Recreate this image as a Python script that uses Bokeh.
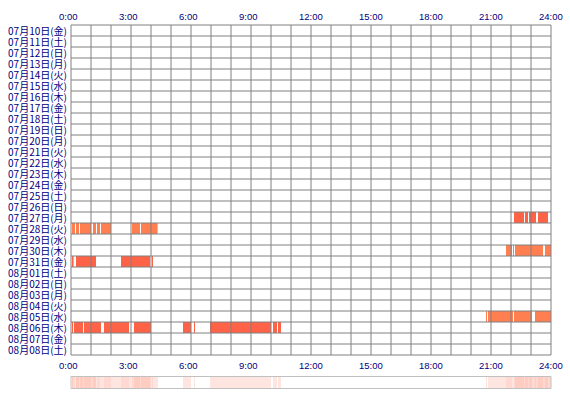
from bokeh.plotting import figure
from bokeh.models import Range1d
from bokeh.core.properties import value
from bokeh.embed import file_html
from bokeh.resources import INLINE
import numpy as np

# ---- data ----
day_labels = [
    "07月10日(金)", "07月11日(土)", "07月12日(日)", "07月13日(月)", "07月14日(火)",
    "07月15日(水)", "07月16日(木)", "07月17日(金)", "07月18日(土)", "07月19日(日)",
    "07月20日(月)", "07月21日(火)", "07月22日(水)", "07月23日(木)", "07月24日(金)",
    "07月25日(土)", "07月26日(日)", "07月27日(月)", "07月28日(火)", "07月29日(水)",
    "07月30日(木)", "07月31日(金)", "08月01日(土)", "08月02日(日)", "08月03日(月)",
    "08月04日(火)", "08月05日(水)", "08月06日(木)", "08月07日(金)", "08月08日(土)",
]
hour_ticks = [0, 3, 6, 9, 12, 15, 18, 21, 24]
hour_labels = ["0:00", "3:00", "6:00", "9:00", "12:00", "15:00", "18:00", "21:00", "24:00"]

act_0727 = [(22.15, 22.65), (22.7, 22.85), (22.9, 23.25), (23.35, 23.85)]
act_0728 = [(0.05, 0.2), (0.25, 0.4), (0.45, 1.0), (1.1, 1.25), (1.3, 1.45), (1.5, 2.0),
            (3.05, 3.45), (3.5, 4.33)]
act_0730 = [(21.75, 22.05), (22.1, 22.15), (22.2, 23.6), (23.7, 24.0)]
act_0731 = [(0.05, 0.13), (0.25, 1.25), (2.5, 3.95), (4.05, 4.1)]
act_0805 = [(20.75, 20.8), (20.85, 22.1), (22.15, 23.05), (23.2, 24.0)]
act_0806 = [(0.05, 0.1), (0.15, 0.6), (0.65, 1.5), (1.65, 2.9), (3.15, 4.0), (5.6, 6.0),
            (6.15, 6.2), (6.95, 10.0), (10.1, 10.3), (10.35, 10.5)]

activity = [
    ("07月27日(月)", act_0727, "#FF6347"),
    ("07月28日(火)", act_0728, "#FF7F50"),
    ("07月30日(木)", act_0730, "#FF7F50"),
    ("07月31日(金)", act_0731, "#FF6347"),
    ("08月05日(水)", act_0805, "#FF7F50"),
    ("08月06日(木)", act_0806, "#FF6347"),
]

# ---- figure ----
W, H = 566, 394
x0 = (0 - 70.5) / 20.0
y0 = (0 - 24.5) / 11.0
p = figure(width=W, height=H, output_backend="svg", toolbar_location=None,
           x_range=Range1d(x0, x0 + W / 20.0), y_range=Range1d(y0 + H / 11.0, y0),
           x_axis_location=None, y_axis_location=None, min_border=0)
p.outline_line_color = None
p.xgrid.visible = False
p.ygrid.visible = False
p.background_fill_color = "white"
p.border_fill_color = "white"

n = len(day_labels)

# bars
L, R, T, B, C = [], [], [], [], []
for lab, segs, col in activity:
    i = day_labels.index(lab)
    for s, e in segs:
        L.append(s); R.append(e); T.append(i); B.append(i + 1); C.append(col)
p.quad(left=L, right=R, top=T, bottom=B, fill_color=C, line_color=None)

# grid
gx0 = [h for h in range(25)]
p.segment(x0=gx0, x1=gx0, y0=[0] * 25, y1=[n] * 25, line_color="#808080", line_width=1)
gy = list(range(n + 1))
p.segment(x0=[0] * (n + 1), x1=[24] * (n + 1), y0=gy, y1=gy, line_color="#808080", line_width=1)

# day labels
p.text(x=[-0.2] * n, y=[i + 0.5 for i in range(n)], text=day_labels,
       text_font=value("Noto Sans CJK JP"), text_font_size="10px", text_color="#000080",
       text_align="right", text_baseline="middle")

# hour labels top and bottom strip labels
p.text(x=hour_ticks, y=[(15.5 - 24.5) / 11.0] * len(hour_ticks), text=hour_labels,
       x_offset=-12, text_font=value("Liberation Sans"), text_font_size="9.5px",
       text_color="#000080", text_align="left", text_baseline="middle")
p.text(x=hour_ticks, y=[(364.5 - 24.5) / 11.0] * len(hour_ticks), text=hour_labels,
       x_offset=-12, text_font=value("Liberation Sans"), text_font_size="9.5px",
       text_color="#000080", text_align="left", text_baseline="middle")

# summary strip (derived from activity counts)
res = 0.05
edges = np.arange(0, 24 + res / 2, res)
mids = (edges[:-1] + edges[1:]) / 2
counts = np.zeros(len(mids))
for lab, segs, col in activity:
    for s, e in segs:
        counts += ((mids >= s) & (mids < e)).astype(float)
sL, sR, sA = [], [], []
k = 0
while k < len(mids):
    j = k
    while j + 1 < len(mids) and counts[j + 1] == counts[k]:
        j += 1
    if counts[k] > 0:
        sL.append(edges[k]); sR.append(edges[j + 1]); sA.append(0.09 + 0.08 * counts[k])
    k = j + 1
st_top = (376 - 24.5) / 11.0
st_bot = (388 - 24.5) / 11.0
p.quad(left=sL, right=sR, top=[st_top] * len(sL), bottom=[st_bot] * len(sL),
       fill_color="#FF6347", fill_alpha=sA, line_color=None)
p.quad(left=[0], right=[24], top=[st_top], bottom=[st_bot], fill_color=None,
       line_color="#C0C0C0", line_width=1)

open("out.html", "w").write(file_html(p, INLINE))
